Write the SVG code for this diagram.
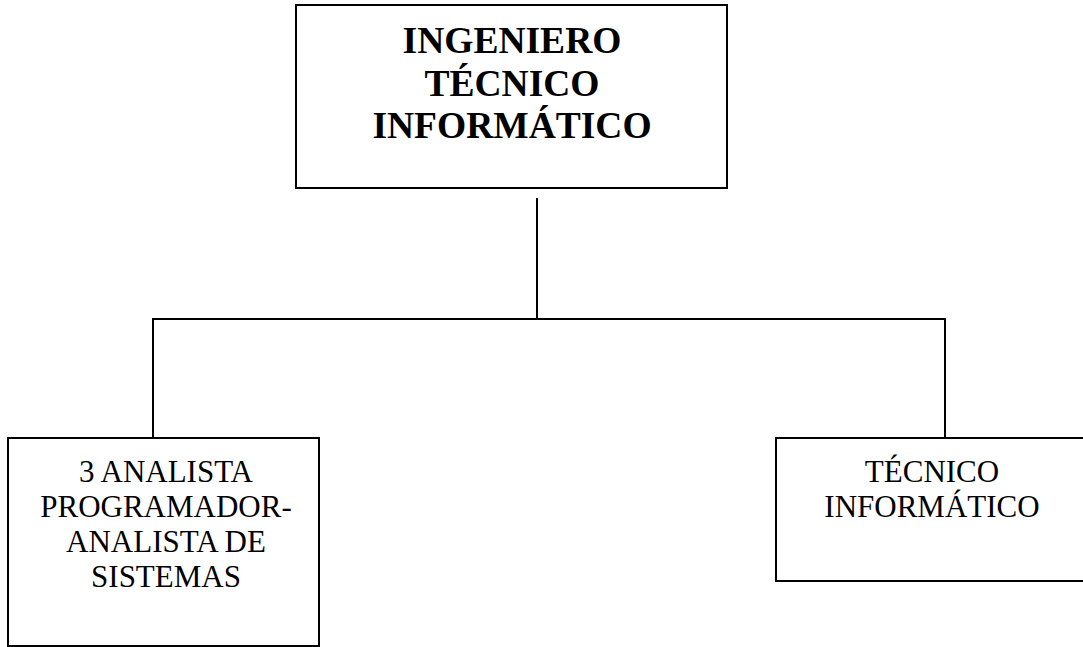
<svg xmlns="http://www.w3.org/2000/svg" width="1083" height="647" viewBox="0 0 1083 647">
<style>
.box{fill:#fff;stroke:#000;stroke-width:2}
.ln{fill:none;stroke:#000;stroke-width:2}
.b{font-family:"Liberation Serif","Times New Roman",serif;font-weight:bold;font-size:37.5px;text-anchor:middle;fill:#000}
.r{font-family:"Liberation Serif","Times New Roman",serif;font-size:31px;text-anchor:middle;fill:#000}
</style>
<rect width="1083" height="647" fill="#fff"/>
<g id="connectors">
<line class="ln" x1="537" y1="198" x2="537" y2="319"/>
<line class="ln" x1="152" y1="319" x2="946" y2="319"/>
<line class="ln" x1="153" y1="319" x2="153" y2="438"/>
<line class="ln" x1="945" y1="319" x2="945" y2="438"/>
</g>
<g id="node-ingeniero">
<rect class="box" x="296" y="5" width="431" height="183"/>
<text class="b" x="512" y="53">INGENIERO</text>
<text class="b" x="512" y="95.5">TÉCNICO</text>
<text class="b" x="512" y="138">INFORMÁTICO</text>
</g>
<g id="node-analista">
<rect class="box" x="8" y="438" width="311" height="208"/>
<text class="r" x="166" y="482">3 ANALISTA</text>
<text class="r" x="166" y="517">PROGRAMADOR-</text>
<text class="r" x="166" y="552">ANALISTA DE</text>
<text class="r" x="166" y="587">SISTEMAS</text>
</g>
<g id="node-tecnico">
<rect class="box" x="776" y="438" width="320" height="143"/>
<text class="r" x="932" y="482">TÉCNICO</text>
<text class="r" x="932" y="517">INFORMÁTICO</text>
</g>
</svg>
